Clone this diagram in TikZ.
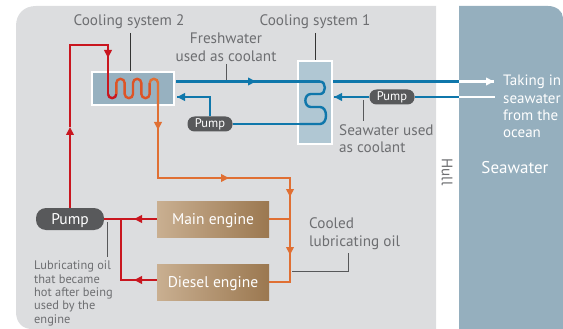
\documentclass[tikz,border=0pt]{standalone}
\usepackage{fontspec}
\setmainfont{PT Sans}
\usetikzlibrary{arrows.meta,shadings,calc}
\definecolor{panel}{HTML}{DCDDDF}
\definecolor{sea}{HTML}{95AFBE}
\definecolor{hxa}{HTML}{97B1C0}
\definecolor{hxb}{HTML}{B0C7D3}
\definecolor{redl}{HTML}{C9161F}
\definecolor{orl}{HTML}{E06F33}
\definecolor{midl}{HTML}{DD5426}
\definecolor{bluel}{HTML}{0F77AB}
\definecolor{pumpc}{HTML}{58595B}
\definecolor{txt}{HTML}{6D6E71}
\tikzset{
  x=1pt,y=-1pt,
  lab/.style={text=txt,font=\fontsize{15.2}{17.3}\selectfont,inner sep=0,align=left},
  smalllab/.style={text=txt,font=\fontsize{12.4}{13.3}\selectfont,inner sep=0,align=left},
  seatxt/.style={text=white,font=\fontsize{15}{17.3}\selectfont,inner sep=0,align=left},
  leader/.style={draw=txt!80!black,line width=.9pt},
  hx/.style={draw=white,line width=2.4pt,inner sep=0},
  pumpbig/.style={fill=pumpc,rounded corners=10pt,text=white,minimum width=68pt,minimum height=22pt,inner sep=0,text height=10pt,text depth=0pt,font=\fontsize{15.5}{17}\selectfont},
  pumpsm/.style={fill=pumpc,rounded corners=7pt,text=white,minimum width=45pt,minimum height=15pt,inner sep=0,text height=8pt,text depth=0pt,font=\fontsize{12.5}{14}\selectfont},
  engine/.style={left color={rgb,255:red,201;green,175;blue,145},right color={rgb,255:red,155;green,120;blue,80},text=white,minimum width=112pt,minimum height=36pt,inner sep=0,text height=10pt,text depth=0pt,font=\fontsize{15.5}{17}\selectfont},
  redp/.style={draw=redl,line width=2.7pt},
  orp/.style={draw=orl,line width=2.7pt},
  blp/.style={draw=bluel,line width=2.7pt},
  whp/.style={draw=white,line width=2.7pt},
  coilw/.style={line width=2.4pt},
  tip/.style={-{Triangle[length=8pt,width=7.5pt]}},
}
\begin{document}
\begin{tikzpicture}
\useasboundingbox (0,0) rectangle (563,329);
\fill[panel] (36,6) -- (436,6) -- (436,329) -- (32,329) .. controls (22,329) and (16,322) .. (16,312) -- (16,26) .. controls (16,14) and (24,6) .. (36,6) -- cycle;
\fill[sea] (459,6) -- (548,6) .. controls (556,6) and (563,11) .. (563,18) -- (563,329) -- (459,329) -- cycle;

% exchangers
\node[hx,fill=hxa,minimum width=82pt,minimum height=33pt] (csb) at (133,88.5) {};
\node[hx,fill=hxb,minimum width=34pt,minimum height=83pt] (csa) at (315,102.5) {};

% pumps and engines
\node[pumpbig] (pb) at (70,219) {Pump};
\node[pumpsm] (pl) at (210,124) {Pump};
\node[pumpsm] (pr) at (392,97) {Pump};
\node[engine] (me) at (213,219) {Main engine};
\node[engine] (de) at (213,282) {Diesel engine};

% coordinates
\coordinate (rtop) at (70,45);
\coordinate (rin) at (108,45);
\coordinate (rmid) at (70,127);
\coordinate (rdown) at (108,58);
\coordinate (cstart) at (108,94);
\coordinate (odown) at (158,130);
\coordinate (ocorner) at (158,178);
\coordinate (oright) at (229,178);
\coordinate (ocr) at (290,178);
\coordinate (oa) at (290,197);
\coordinate (ob) at (290,255);
\coordinate (obot) at (290,282);
\coordinate (omain) at (290,219);
\coordinate (rj) at (121,219);
\coordinate (rjb) at (121,280);
\coordinate (fa) at (176,81.5);
\coordinate (fm) at (256,81.5);
\coordinate (fin) at (320,81.5);
\coordinate (fb) at (300,124);
\coordinate (fleft) at (210,97);
\coordinate (fend) at (177,97);
\coordinate (seaout) at (459,81.5);
\coordinate (seaoutend) at (494,81.5);
\coordinate (seain) at (459,97);
\coordinate (seainend) at (495,97);
\coordinate (sarr) at (334,97);

% red circuit
\draw[redp,tip] (pb.north) -- (rmid);
\draw[redp] (rmid) -- (rtop) -- (rin) -- (rdown);
\draw[redp,tip] (rin) -- (rdown);
\draw[redp] (rdown) -- (cstart);
\draw[redp] (pb.east |- me) -- (me.west);
\draw[redp,tip] (me.west) -- (134,219);
\draw[redp] (rj) -- (rjb) -- (de.west |- rjb);
\draw[redp,tip] (de.west |- rjb) -- (134,280);

% coil in system 2
\draw[coilw,redl] (cstart) arc[start angle=180,end angle=0,radius=4.17];
\draw[coilw,midl] (116.33,94) -- (116.33,83) arc[start angle=180,end angle=360,radius=4.17] -- (124.67,94)
  arc[start angle=180,end angle=0,radius=4.17] -- (133,83) arc[start angle=180,end angle=360,radius=4.17] -- (141.33,94)
  arc[start angle=180,end angle=0,radius=4.17] -- (149.67,83);
\draw[coilw,orl] (149.67,83) arc[start angle=180,end angle=360,radius=4.17] -- (158,106);

% orange circuit
\draw[orp] (158,106) -- (ocorner) -- (ocr) -- (obot) -- (de.east |- obot);
\draw[orp,tip] (158,106) -- (odown);
\draw[orp,tip] (ocorner) -- (oright);
\draw[orp,tip] (ocr) -- (oa);
\draw[orp,tip] (ocr) -- (ob);
\draw[orp] (me.east) -- (omain);

% blue circuit
\draw[blp] (fa) -- (fin);
\draw[blp,tip] (fa) -- (fm);
\draw[coilw,bluel] (fin) .. controls (326.5,81.5) and (326.5,94) .. (320,94) -- (311,94)
  .. controls (303.5,94) and (303.5,107) .. (311,107) -- (320,107)
  .. controls (328,107) and (328,124) .. (320,124) -- (fb);
\draw[blp] (pl.east) -- (fb);
\draw[blp] (pl.north) -- (fleft) -- (fend);
\draw[blp,tip] (fleft) -- (fend);

% sea water
\draw[blp] (csa.east |- fa) -- (seaout);
\draw[whp] (seaout) -- (seaoutend);
\draw[whp,tip] (seaout) -- (seaoutend);
\draw[blp] (seain) -- (pr.east);
\draw[blp] (pr.west) -- (sarr);
\draw[blp,tip] (pr.west) -- (sarr);
\draw[whp] (seain) -- (seainend);

% labels
\node[lab,anchor=north] (lb) at (129,14) {Cooling system 2};
\node[lab,anchor=north] (la) at (315,14) {Cooling system 1};
\node[lab,anchor=north,align=center] (lf) at (226,33) {Freshwater\\used as coolant};
\node[lab,anchor=north west] (ls) at (339,124) {Seawater used\\as coolant};
\node[lab,anchor=north west,font=\fontsize{15.2}{18.5}\selectfont] (lc) at (309,217) {Cooled\\lubricating oil};
\node[smalllab,anchor=north west] (lo) at (34,261) {Lubricating oil\\that became\\hot after being\\used by the\\engine};
\node[lab,rotate=-90] (hull) at (447,172) {Hull};
\node[seatxt,font=\fontsize{17}{19}\selectfont] (lsea) at (515,168) {Seawater};
\node[seatxt,anchor=north west] (lt) at (503,75) {Taking in\\seawater\\from the\\ocean};

% leaders
\coordinate (lo1) at (107.5,222);\coordinate (lo2) at (107.5,257);
\coordinate (lca) at (292,271);\coordinate (lcb) at (348,271);\coordinate (lcc) at (348,253);
\coordinate (lsa) at (363,100);\coordinate (lsb) at (363,121);
\coordinate (lfa) at (226,64);\coordinate (lfb) at (226,80);
\coordinate (lba) at (130.5,33);\coordinate (laa) at (315.5,33);
\draw[leader,black!80] (lba) -- (lba |- csb.north);
\draw[leader,black!80] (laa) -- (laa |- csa.north);
\draw[leader] (lfa) -- (lfb);
\draw[leader] (lsa) -- (lsb);
\draw[leader] (lo1) -- (lo2);
\draw[leader] (lca) -- (lcb) -- (lcc);
\end{tikzpicture}
\end{document}
